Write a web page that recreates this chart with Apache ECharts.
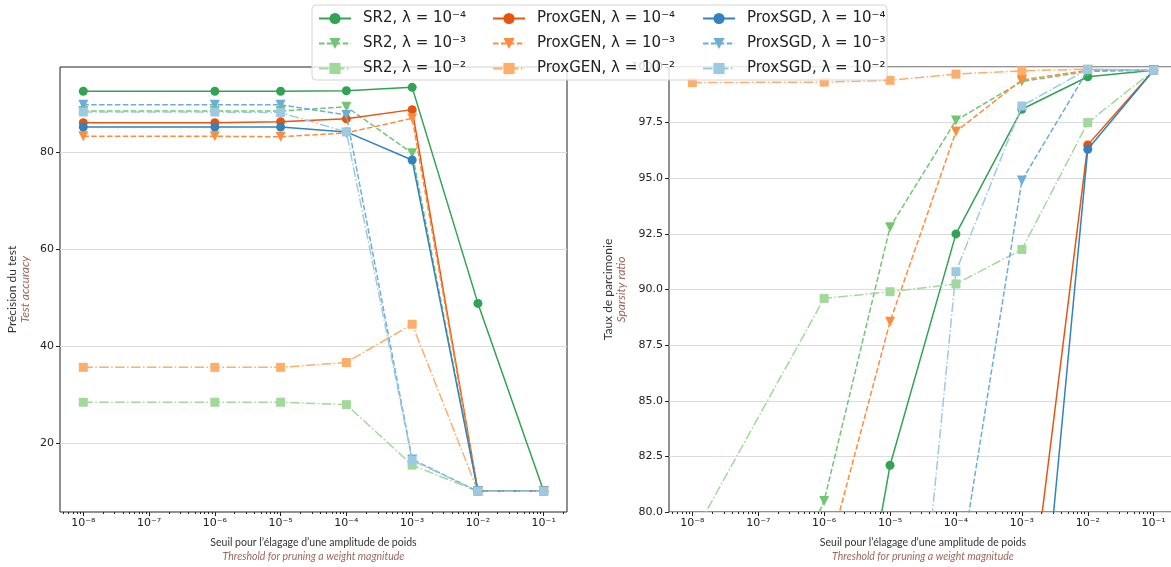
<!DOCTYPE html>
<html>
<head>
    <meta charset="utf-8">
    <script src="https://cdn.jsdelivr.net/npm/echarts@6/dist/echarts.min.js"></script>
    <style>
        html, body { margin: 0; padding: 0; background: #fff; }
    </style>
</head>
<body>
<div id="main" style="width: 1171px;height:567px;"></div>
<script type="text/javascript">
    // seuils (exposants de 10)
    const thresholds = [-8, -6, -5, -4, -3, -2, -1];
    const xTickExps = [-8, -7, -6, -5, -4, -3, -2, -1];
    const accTicks = [20, 40, 60, 80];

    const seriesNames = [
        'SR2, λ = 10⁻⁴', 'SR2, λ = 10⁻³', 'SR2, λ = 10⁻²',
        'ProxGEN, λ = 10⁻⁴', 'ProxGEN, λ = 10⁻³', 'ProxGEN, λ = 10⁻²',
        'ProxSGD, λ = 10⁻⁴', 'ProxSGD, λ = 10⁻³', 'ProxSGD, λ = 10⁻²'
    ];

    // précision du test
    const accSR2_4 = [92.6, 92.6, 92.6, 92.7, 93.4, 48.8, 10];
    const accSR2_3 = [88.5, 88.5, 88.5, 89.4, 79.8, 10, 10];
    const accSR2_2 = [28.4, 28.4, 28.4, 27.9, 15.4, 10, 10];
    const accGEN_4 = [86.1, 86.1, 86.3, 86.9, 88.8, 10, 10];
    const accGEN_3 = [83.3, 83.3, 83.2, 84.0, 87.0, 10, 10];
    const accGEN_2 = [35.6, 35.6, 35.6, 36.6, 44.5, 10, 10];
    const accSGD_4 = [85.2, 85.2, 85.2, 84.2, 78.4, 10, 10];
    const accSGD_3 = [89.8, 89.8, 89.8, 87.7, 16.6, 10, 10];
    const accSGD_2 = [88.3, 88.3, 88.2, 84.2, 16.4, 10, 10];

    // taux de parcimonie
    const spSR2_4 = [64.0, 65.4, 82.1, 92.5, 98.1, 99.56, 99.85];
    const spSR2_3 = [67.0, 80.5, 92.8, 97.6, 99.35, 99.8, 99.85];
    const spSR2_2 = [78.9, 89.6, 89.9, 90.25, 91.8, 97.5, 99.85];
    const spGEN_4 = [60.0, 60.0, 61.0, 62.0, 72.6, 96.5, 99.85];
    const spGEN_3 = [74.0, 77.4, 88.55, 97.1, 99.42, 99.85, 99.85];
    const spGEN_2 = [99.3, 99.32, 99.4, 99.68, 99.83, 99.9, 99.85];
    const spSGD_4 = [58.0, 58.0, 59.0, 60.0, 64.8, 96.3, 99.85];
    const spSGD_3 = [60.0, 61.0, 62.0, 76.3, 94.9, 99.85, 99.85];
    const spSGD_2 = [55.0, 56.0, 60.5, 90.8, 98.25, 99.9, 99.85];

    const accData = [accSR2_4, accSR2_3, accSR2_2, accGEN_4, accGEN_3, accGEN_2, accSGD_4, accSGD_3, accSGD_2];
    const spData = [spSR2_4, spSR2_3, spSR2_2, spGEN_4, spGEN_3, spGEN_2, spSGD_4, spSGD_3, spSGD_2];

    const colors = ['#31a354', '#74c476', '#a1d99b', '#e6550d', '#fd8d3c', '#fdae6b', '#3182bd', '#6baed6', '#9ecae1'];
    const styles = [
        {symbol: 'circle', size: 9, rotate: 0, dash: 'solid'},
        {symbol: 'triangle', size: 10, rotate: 180, dash: [5.5, 2.4]},
        {symbol: 'rect', size: 9, rotate: 0, dash: [9.6, 2.4, 1.5, 2.4]}
    ];

    const XMIN = -8.354, XMAX = -0.646;
    const SUP = {'-': '⁻', '0': '⁰', '1': '¹', '2': '²', '3': '³', '4': '⁴', '5': '⁵', '6': '⁶', '7': '⁷', '8': '⁸', '9': '⁹'};
    const pow10 = v => '10' + String(Math.round(v)).split('').map(c => SUP[c]).join('');

    // graduations mineures (log)
    const minorTicks = [];
    for (let n = -9; n <= -1; n++) {
        for (let k = 2; k <= 9; k++) {
            const v = n + Math.log10(k);
            if (v > XMIN && v < XMAX) minorTicks.push(v);
        }
    }

    const tickFont = {fontFamily: 'DejaVu Sans', fontSize: 11, color: '#222'};
    const nameRich = {
        a: {fontFamily: 'Lato', fontSize: 10.5, color: '#333', lineHeight: 14},
        b: {fontFamily: 'Lato', fontSize: 10.5, color: '#a0675b', fontStyle: 'italic', lineHeight: 14}
    };
    const yNameRich = {
        a: {fontFamily: 'Lato', fontSize: 12, color: '#333', lineHeight: 13},
        b: {fontFamily: 'Lato', fontSize: 12, color: '#a0675b', fontStyle: 'italic', lineHeight: 13}
    };
    const xName = '{a|Seuil pour l’élagage d’une amplitude de poids}\n{b|Threshold for pruning a weight magnitude}';

    function mainX(grid) {
        return {
            type: 'value', gridIndex: grid, min: XMIN, max: XMAX, position: 'bottom',
            axisLine: {show: false},
            axisTick: {show: true, length: 4, customValues: xTickExps, lineStyle: {color: '#222'}},
            axisLabel: Object.assign({customValues: xTickExps, margin: 6, formatter: pow10}, tickFont),
            splitLine: {show: false},
            name: xName, nameLocation: 'middle', nameGap: 24,
            nameTextStyle: {rich: nameRich}
        };
    }
    function minorX(grid) {
        return {
            type: 'value', gridIndex: grid, min: XMIN, max: XMAX, position: 'bottom',
            axisLine: {show: false},
            axisTick: {show: true, length: 2, customValues: minorTicks, lineStyle: {color: '#222'}},
            axisLabel: {show: false},
            splitLine: {show: false}
        };
    }

    const series = [];
    [accData, spData].forEach((set, g) => {
        set.forEach((vals, i) => {
            const st = styles[i % 3];
            series.push({
                name: seriesNames[i], type: 'line',
                xAxisIndex: g * 2, yAxisIndex: g,
                data: thresholds.map((e, j) => [e, vals[j]]),
                symbol: st.symbol, symbolSize: st.size, symbolRotate: st.rotate,
                lineStyle: {color: colors[i], width: 1.5, type: st.dash},
                itemStyle: {color: colors[i]},
                clip: true, z: 2 + i * 0.01,
                emphasis: {disabled: true}
            });
        });
    });

    const legendBase = {
        orient: 'vertical', top: 11, padding: 0, itemGap: 10, itemWidth: 32, itemHeight: 14,
        textStyle: {fontFamily: 'DejaVu Sans', fontSize: 15, color: '#222', padding: [0, 0, 0, 7]},
        z: 20, selectedMode: false
    };

    const myChart = echarts.init(document.getElementById('main'));
    const option = {
        animation: false,
        backgroundColor: '#fff',
        grid: [
            {left: 60, top: 67, width: 507, height: 445, show: true, borderColor: '#222', borderWidth: 1, containLabel: false, outerBoundsMode: 'none'},
            {left: 669, top: 67, width: 508, height: 445, show: true, borderColor: '#222', borderWidth: 1, containLabel: false, outerBoundsMode: 'none'}
        ],
        xAxis: [mainX(0), minorX(0), mainX(1), minorX(1)],
        yAxis: [
            {
                type: 'value', gridIndex: 0, min: 5.74, max: 97.6,
                axisLine: {show: false},
                axisTick: {show: true, length: 4, customValues: accTicks, lineStyle: {color: '#222'}},
                axisLabel: Object.assign({customValues: accTicks, margin: 6}, tickFont),
                splitLine: {show: true, lineStyle: {color: '#dcdcdc', width: 1}},
                name: '{a|Précision du test}\n{b|Test accuracy}',
                nameLocation: 'middle', nameRotate: 90, nameGap: 28,
                nameTextStyle: {rich: yNameRich}
            },
            {
                type: 'value', gridIndex: 1, min: 80, max: 100, interval: 2.5,
                axisLine: {show: false},
                axisTick: {show: true, length: 4, lineStyle: {color: '#222'}},
                axisLabel: Object.assign({margin: 6, formatter: v => v.toFixed(1)}, tickFont),
                splitLine: {show: true, lineStyle: {color: '#dcdcdc', width: 1}},
                name: '{a|Taux de parcimonie}\n{b|Sparsity ratio}',
                nameLocation: 'middle', nameRotate: 90, nameGap: 36,
                nameTextStyle: {rich: yNameRich}
            }
        ],
        legend: [
            Object.assign({left: 318, data: seriesNames.slice(0, 3)}, legendBase),
            Object.assign({left: 492, data: seriesNames.slice(3, 6)}, legendBase),
            Object.assign({left: 702, data: seriesNames.slice(6, 9)}, legendBase)
        ],
        graphic: [{
            type: 'rect', z: 15, silent: true,
            shape: {x: 312, y: 5, width: 575, height: 75, r: 4},
            style: {fill: 'rgba(255,255,255,0.8)', stroke: '#d4d4d4', lineWidth: 1}
        }],
        series: series
    };

    myChart.setOption(option);
</script>
</body>
</html>
